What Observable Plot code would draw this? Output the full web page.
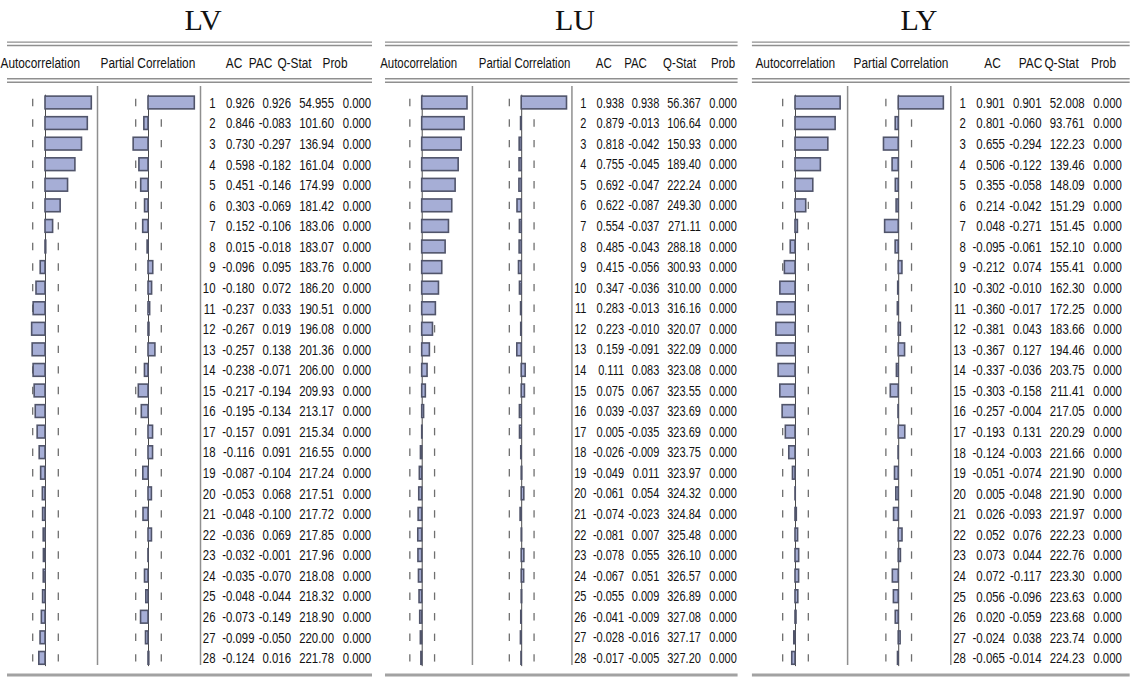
<!DOCTYPE html>
<html>
<head>
<meta charset="utf-8">
<script src="https://cdn.jsdelivr.net/npm/d3@7"></script>
<script src="https://cdn.jsdelivr.net/npm/@observablehq/plot@0.6"></script>
<style>
  html, body { margin: 0; padding: 0; background: #fff; }
  #page { position: relative; width: 1134px; height: 677px; overflow: hidden; background: #fff; }
  .title { position: absolute; top: 0; height: 36px; width: 120px; margin-left: -60px; text-align: center;
           font-family: "Liberation Serif", "Times New Roman", serif; font-size: 30px; line-height: 40px; color: #111; }
  .panel { position: absolute; top: 36px; }
  .panel svg { display: block; overflow: visible; }
</style>
</head>
<body>
<div id="page"></div>
<script>
// ---------- data ----------
const lags = [1,2,3,4,5,6,7,8,9,10,11,12,13,14,15,16,17,18,19,20,21,22,23,24,25,26,27,28];
const headers = ["Autocorrelation", "Partial Correlation", "AC", "PAC", "Q-Stat", "Prob"];
const panelNames = ["LV", "LU", "LY"];

const lvAC  = [0.926,0.846,0.730,0.598,0.451,0.303,0.152,0.015,-0.096,-0.180,-0.237,-0.267,-0.257,-0.238,-0.217,-0.195,-0.157,-0.116,-0.087,-0.053,-0.048,-0.036,-0.032,-0.035,-0.048,-0.073,-0.099,-0.124];
const lvPAC = [0.926,-0.083,-0.297,-0.182,-0.146,-0.069,-0.106,-0.018,0.095,0.072,0.033,0.019,0.138,-0.071,-0.194,-0.134,0.091,0.091,-0.104,0.068,-0.100,0.069,-0.001,-0.070,-0.044,-0.149,-0.050,0.016];
const lvQ   = [54.955,101.60,136.94,161.04,174.99,181.42,183.06,183.07,183.76,186.20,190.51,196.08,201.36,206.00,209.93,213.17,215.34,216.55,217.24,217.51,217.72,217.85,217.96,218.08,218.32,218.90,220.00,221.78];
const lvProb = [0,0,0,0,0,0,0,0,0,0,0,0,0,0,0,0,0,0,0,0,0,0,0,0,0,0,0,0];

const luAC  = [0.938,0.879,0.818,0.755,0.692,0.622,0.554,0.485,0.415,0.347,0.283,0.223,0.159,0.111,0.075,0.039,0.005,-0.026,-0.049,-0.061,-0.074,-0.081,-0.078,-0.067,-0.055,-0.041,-0.028,-0.017];
const luPAC = [0.938,-0.013,-0.042,-0.045,-0.047,-0.087,-0.037,-0.043,-0.056,-0.036,-0.013,-0.010,-0.091,0.083,0.067,-0.037,-0.035,-0.009,0.011,0.054,-0.023,0.007,0.055,0.051,0.009,-0.009,-0.016,-0.005];
const luQ   = [56.367,106.64,150.93,189.40,222.24,249.30,271.11,288.18,300.93,310.00,316.16,320.07,322.09,323.08,323.55,323.69,323.69,323.75,323.97,324.32,324.84,325.48,326.10,326.57,326.89,327.08,327.17,327.20];
const luProb = [0,0,0,0,0,0,0,0,0,0,0,0,0,0,0,0,0,0,0,0,0,0,0,0,0,0,0,0];

const lyAC  = [0.901,0.801,0.655,0.506,0.355,0.214,0.048,-0.095,-0.212,-0.302,-0.360,-0.381,-0.367,-0.337,-0.303,-0.257,-0.193,-0.124,-0.051,0.005,0.026,0.052,0.073,0.072,0.056,0.020,-0.024,-0.065];
const lyPAC = [0.901,-0.060,-0.294,-0.122,-0.058,-0.042,-0.271,-0.061,0.074,-0.010,-0.017,0.043,0.127,-0.036,-0.158,-0.004,0.131,-0.003,-0.074,-0.048,-0.093,0.076,0.044,-0.117,-0.096,-0.059,0.038,-0.014];
const lyQ   = [52.008,93.761,122.23,139.46,148.09,151.29,151.45,152.10,155.41,162.30,172.25,183.66,194.46,203.75,211.41,217.05,220.29,221.66,221.90,221.90,221.97,222.23,222.76,223.30,223.63,223.68,223.74,224.23];
const lyProb = [0,0,0,0,0,0,0,0,0,0,0,0,0,0,0,0,0,0,0,0,0,0,0,0,0,0,0,0];

const nObs = 61; // sample size implied by the Q-statistics; bands at ±2/√T

// ---------- layout (not data) ----------
const SVG_TOP = 36, H = 641;
const ROW1 = 102.5, STEP = 20.57;           // page y of lag 1 and row pitch
const rowAt = py => (py - ROW1) / STEP + 1;  // page y -> row units
const K = 50;                                // layout units per unit of correlation
const PAC0 = 103, SEP1 = 52, SEP2 = 155;
const COL = {lag: 170, ac: 209, pac: 245.5, q: 288.5, prob: 325.7};
const SQUEEZE = 0.76;                        // horizontal squeeze of the table font
const HEAD_SQUEEZE = 0.79;

const panels = [
  {ac: lvAC, pac: lvPAC, q: lvQ, prob: lvProb, left: 0,   width: 377, origin: 45,    s: 1.0,
   titleX: 203, lines: [-38, 327], head: [-45, 55, 188.5, 215, 249, 289.5]},
  {ac: luAC, pac: luPAC, q: luQ, prob: luProb, left: 377, width: 373, origin: 421.7, s: 0.966,
   titleX: 575, lines: [-38, 327], head: [-43.5, 58.6, 188, 220.8, 266.4, 311.4]},
  {ac: lyAC, pac: lyPAC, q: lyQ, prob: lyProb, left: 750, width: 384, origin: 795,   s: 1.002,
   titleX: 919, lines: [-43, 334], head: [-40, 57.9, 196.6, 234.5, 265.5, 307.4]}
];

const page = document.getElementById("page");
const sig = 2 / Math.sqrt(nObs);
const FONT = '"Liberation Sans", Arial, sans-serif';

panels.forEach((p, pi) => {
  const t = document.createElement("div");
  t.className = "title";
  t.style.left = p.titleX + "px";
  t.textContent = panelNames[pi];
  page.appendChild(t);

  const rows = lags.map((lag, i) => ({lag, ac: p.ac[i], pac: p.pac[i], q: p.q[i], prob: p.prob[i]}));
  const loc = p.origin - p.left;
  const xDomain = [(0 - loc) / p.s, (p.width - loc) / p.s];
  const yDomain = [rowAt(SVG_TOP), rowAt(SVG_TOP + H)];

  const dashes = rows.flatMap(d => [-1, 1].flatMap(sg => [
    {lag: d.lag, x: sg * sig * K}, {lag: d.lag, x: PAC0 + sg * sig * K}
  ]));
  const headRows = headers.map((h, i) => ({h, x: p.head[i]}));
  const fs = 15 * p.s;
  const lineColor = "#8f8f8f";
  const ink = "#121212";
  const headY = () => rowAt(62.5);

  const chart = Plot.plot({
    width: p.width, height: H, margin: 0,
    x: {type: "linear", domain: xDomain, range: [0, p.width], axis: null},
    y: {type: "linear", domain: yDomain, range: [0, H], axis: null},
    style: {fontFamily: FONT, fontSize: fs + "px", color: ink, background: "transparent", overflow: "visible"},
    marks: [
      // double rules above and below the header
      Plot.ruleY([rowAt(41.6), rowAt(45.0), rowAt(78.3), rowAt(81.7)],
        {x1: () => p.lines[0], x2: () => p.lines[1], stroke: lineColor, strokeWidth: 1.4}),
      // bottom rule
      Plot.ruleY([rowAt(674.5)], {x1: () => p.lines[0], x2: () => p.lines[1], stroke: "#a2a2a2", strokeWidth: 3}),
      // column separators
      Plot.ruleX([SEP1, SEP2], {y1: () => rowAt(86), y2: () => rowAt(665), stroke: lineColor, strokeWidth: 1.5}),
      // significance band dashes
      Plot.ruleX(dashes, {x: "x", y1: d => d.lag - 0.18, y2: d => d.lag + 0.18, stroke: "#6f6f6f", strokeWidth: 1.3}),
      // zero lines
      Plot.ruleX([0, PAC0], {y1: () => 0.62, y2: () => 28.4, stroke: "#4a4a4a", strokeWidth: 1}),
      // AC bars
      Plot.rect(rows, {x1: () => 0, x2: d => d.ac * K, y1: d => d.lag - 0.31, y2: d => d.lag + 0.31,
        fill: "#a6aed6", stroke: "#50546a", strokeWidth: 1.6}),
      // PAC bars
      Plot.rect(rows, {x1: () => PAC0, x2: d => PAC0 + d.pac * K, y1: d => d.lag - 0.31, y2: d => d.lag + 0.31,
        fill: "#a6aed6", stroke: "#50546a", strokeWidth: 1.6}),
      // header labels
      Plot.text(headRows.slice(0, 2), {x: "x", y: headY, text: "h", textAnchor: "start", fill: ink}),
      Plot.text(headRows.slice(2), {x: "x", y: headY, text: "h", textAnchor: "middle", fill: ink}),
      // table columns
      Plot.text(rows, {x: () => COL.lag,  y: "lag", text: d => String(d.lag),      textAnchor: "end", fill: ink}),
      Plot.text(rows, {x: () => COL.ac,   y: "lag", text: d => d.ac.toFixed(3),    textAnchor: "end", fill: ink}),
      Plot.text(rows, {x: () => COL.pac,  y: "lag", text: d => d.pac.toFixed(3),   textAnchor: "end", fill: ink}),
      Plot.text(rows, {x: () => COL.q,    y: "lag", text: d => d.q.toPrecision(5), textAnchor: "end", fill: ink}),
      Plot.text(rows, {x: () => COL.prob, y: "lag", text: d => d.prob.toFixed(3),  textAnchor: "end", fill: ink})
    ]
  });
  // squeeze the text horizontally around its anchor point (EViews uses a narrow face)
  const textGroups = chart.querySelectorAll('g[aria-label="text"]');
  textGroups.forEach((g, gi) => {
    const c = gi < 2 ? HEAD_SQUEEZE : SQUEEZE;
    g.querySelectorAll("text").forEach(el => {
      const tr = el.getAttribute("transform");
      if (tr) {
        el.setAttribute("transform", tr + ` scale(${c},1)`);
      } else {
        const x = +(el.getAttribute("x") || 0);
        el.setAttribute("transform", `translate(${x * (1 - c)},0) scale(${c},1)`);
      }
    });
  });
  const wrap = document.createElement("div");
  wrap.className = "panel";
  wrap.style.left = p.left + "px";
  wrap.appendChild(chart);
  page.appendChild(wrap);
});
</script>
</body>
</html>
